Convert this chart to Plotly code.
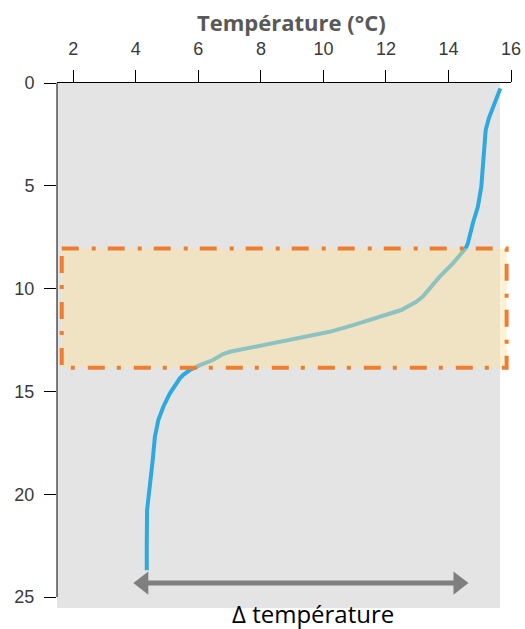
import plotly.graph_objects as go

# Temperature profile (°C) vs depth (m)
temperature = [15.66, 15.47, 15.29, 15.19, 15.15, 15.12, 15.05, 14.94, 14.78, 14.62, 14.55,
               14.14, 13.72, 13.18, 12.97, 12.49, 12.22, 11.80, 10.95, 10.20, 9.67, 8.60,
               7.54, 7.01, 6.79, 6.47, 6.05, 5.73, 5.51, 5.41, 5.09, 4.88, 4.72, 4.61,
               4.54, 4.43, 4.36, 4.35, 4.35]
depth = [0.26, 0.99, 1.72, 2.29, 3.10, 3.91, 5.04, 6.02, 6.82, 7.80, 8.04,
         8.77, 9.42, 10.39, 10.64, 11.04, 11.17, 11.40, 11.77, 12.10, 12.26, 12.58,
         12.90, 13.07, 13.18, 13.47, 13.72, 13.96, 14.20, 14.36, 15.09, 15.74, 16.39, 17.20,
         18.34, 19.63, 20.77, 22.39, 23.69]

temp_ticks = [2, 4, 6, 8, 10, 12, 14, 16]
depth_ticks = [0, 5, 10, 15, 20, 25]

# thermocline band (depth range) and temperature-difference arrow
thermocline = [8.05, 13.85]
delta_arrow_x = [4.24, 14.32]
delta_arrow_y = [24.32, 24.32]

X_MIN, X_MAX = 1.479, 16.0
Y_MAX = 25.53
BG_RIGHT = 15.65

fig = go.Figure()

fig.add_trace(go.Scatter(
    x=temperature, y=depth, mode="lines",
    line=dict(color="#2EA9DF", width=4, shape="linear"),
    hoverinfo="skip", showlegend=False,
))

fig.add_trace(go.Scatter(
    x=delta_arrow_x, y=delta_arrow_y, mode="lines+markers",
    line=dict(color="#7F7F7F", width=5),
    marker=dict(symbol=["triangle-left", "triangle-right"], size=20, color="#7F7F7F",
                line=dict(width=0)),
    hoverinfo="skip", showlegend=False, cliponaxis=False,
))

shapes = [
    # grey panel
    dict(type="rect", xref="x", yref="y", x0=X_MIN, x1=BG_RIGHT, y0=0, y1=Y_MAX,
         layer="below", line=dict(width=0), fillcolor="#E4E4E4"),
    # left axis line (0 to 25)
    dict(type="line", xref="paper", yref="y", x0=0, x1=0, y0=0, y1=25,
         line=dict(color="black", width=1), layer="above"),
    # thermocline box
    dict(type="rect", xref="x", yref="y", x0=1.63, x1=15.86,
         y0=thermocline[0], y1=thermocline[1],
         fillcolor="rgba(255,226,155,0.45)",
         line=dict(color="#ED7D31", width=4, dash="17px,13px,4px,12px"),
         layer="above"),
]

tick_font = dict(family="Liberation Sans, Arial", size=18, color="#3a3a3a")

fig.update_layout(
    width=525, height=629, autosize=False,
    margin=dict(l=57, r=14, t=83, b=21, pad=0),
    paper_bgcolor="white", plot_bgcolor="white",
    shapes=shapes,
    xaxis=dict(
        side="top", range=[X_MIN, X_MAX], tickvals=temp_ticks,
        ticktext=[str(v) for v in temp_ticks],
        showgrid=False, zeroline=False, automargin=False,
        showline=True, linecolor="black", linewidth=1,
        ticks="outside", ticklen=12, tickwidth=1, tickcolor="black",
        tickfont=tick_font, ticklabelstandoff=8,
    ),
    yaxis=dict(
        range=[Y_MAX, 0], tickvals=depth_ticks,
        ticktext=[str(v) for v in depth_ticks],
        showgrid=False, zeroline=False, showline=False, automargin=False,
        ticks="outside", ticklen=12, tickwidth=1, tickcolor="black",
        tickfont=tick_font, ticklabelstandoff=6,
    ),
    annotations=[
        dict(text="Température (°C)", xref="paper", yref="paper",
             x=(291 - 57) / 454, y=(608 - 22) / 525,
             xanchor="center", yanchor="middle", showarrow=False,
             font=dict(family="Open Sans", size=22, color="#595959", weight="bold")),
        dict(text="Δ température", xref="x", yref="paper", x=9.66, y=(608 - 613) / 525,
             xanchor="center", yanchor="middle", showarrow=False,
             font=dict(family="Open Sans", size=24, color="black")),
    ],
)

fig.write_html("out.html", config={"displayModeBar": False},
               post_script="document.body.style.margin='0';")
